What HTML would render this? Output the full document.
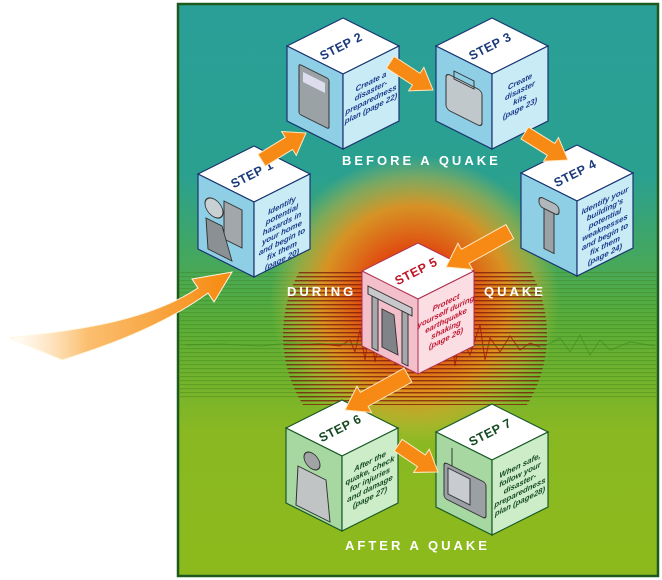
<!DOCTYPE html>
<html><head><meta charset="utf-8"><style>
html,body{margin:0;padding:0;background:#fff;width:662px;height:580px;overflow:hidden}
svg{display:block}
.lab{font-family:"Liberation Sans",sans-serif;font-weight:900;fill:#fff;font-size:13px;letter-spacing:3px}
.face{font-family:"Liberation Sans",sans-serif;font-weight:bold;font-style:italic;font-size:7.8px;text-anchor:middle}
.stp{font-family:"Liberation Sans",sans-serif;font-weight:900;font-size:12.5px;text-anchor:middle;letter-spacing:0.5px}
</style></head><body>
<svg width="662" height="580" viewBox="0 0 662 580" xmlns="http://www.w3.org/2000/svg">
<defs>
<linearGradient id="bg" x1="0" y1="0" x2="0" y2="1">
<stop offset="0" stop-color="#2a9f98"/><stop offset="0.3" stop-color="#2aa090"/>
<stop offset="0.55" stop-color="#58ad3a"/><stop offset="0.75" stop-color="#8ab822"/><stop offset="1" stop-color="#8cba1c"/>
</linearGradient>
<radialGradient id="glow" cx="415" cy="300" r="145" gradientUnits="userSpaceOnUse">
<stop offset="0" stop-color="#d8200c"/><stop offset="0.35" stop-color="#e04a10"/>
<stop offset="0.65" stop-color="#e8901c" stop-opacity="0.9"/><stop offset="0.85" stop-color="#d8b030" stop-opacity="0.45"/>
<stop offset="1" stop-color="#c0c040" stop-opacity="0"/>
</radialGradient>
<linearGradient id="big" x1="10" y1="0" x2="230" y2="0" gradientUnits="userSpaceOnUse">
<stop offset="0" stop-color="#ffd9a0" stop-opacity="0"/><stop offset="0.35" stop-color="#fbbf70"/><stop offset="1" stop-color="#f68a10"/>
</linearGradient>
<clipPath id="circ"><circle cx="415" cy="335" r="132"/></clipPath>
<pattern id="stripes" width="10" height="4" patternUnits="userSpaceOnUse"><rect width="10" height="1.4" fill="#7a1808"/></pattern>
<pattern id="stripes2" width="10" height="4" patternUnits="userSpaceOnUse"><rect width="10" height="1.2" fill="#3a7a10" opacity="0.35"/></pattern>
</defs>
<rect x="178" y="4" width="480" height="572" fill="url(#bg)" stroke="#1e5a1e" stroke-width="2.5"/>
<rect x="180" y="270" width="476" height="130" fill="url(#stripes2)"/>
<circle cx="415" cy="300" r="145" fill="url(#glow)"/>
<g clip-path="url(#circ)"><rect x="280" y="270" width="270" height="135" fill="url(#stripes)" opacity="0.75"/></g>
<polyline fill="none" stroke="#a01808" stroke-width="1" opacity="0.8" points="300,345 320,344 340,346 350,340 355,352 360,330 365,360 370,325 375,362 380,335 385,355 390,320 395,365 400,330 410,360 420,340 430,358 440,330 445,362 450,320 455,366 460,335 470,355 480,325 485,360 490,338 500,352 510,336 520,350 530,343 540,347"/>
<polyline fill="none" stroke="#3a8a20" stroke-width="1" opacity="0.6" points="185,345 220,344 260,346 290,343 545,346 560,338 570,352 580,335 590,355 600,340 610,350 630,342 655,346"/>

<path d="M10,338 C80,330 150,320 198,288 L192,279 L232,272 L214,302 L208,293 C160,328 100,348 62,360 Z" fill="url(#big)" stroke="#fff6e0" stroke-width="1"/>

<g transform="translate(254,146)" stroke="#1a3470" stroke-width="1.2">
<polygon points="0,0 56,28 0,56 -56,28" fill="#ffffff"/>
<polygon points="-56,28 0,56 0,131 -56,103" fill="#8fcfe6"/>
<polygon points="0,56 56,28 56,103 0,131" fill="#c8ebf6"/>
</g>
<g transform="translate(343,18)" stroke="#1a3470" stroke-width="1.2">
<polygon points="0,0 56,28 0,56 -56,28" fill="#ffffff"/>
<polygon points="-56,28 0,56 0,131 -56,103" fill="#8fcfe6"/>
<polygon points="0,56 56,28 56,103 0,131" fill="#c8ebf6"/>
</g>
<g transform="translate(492,18)" stroke="#1a3470" stroke-width="1.2">
<polygon points="0,0 56,28 0,56 -56,28" fill="#ffffff"/>
<polygon points="-56,28 0,56 0,131 -56,103" fill="#8fcfe6"/>
<polygon points="0,56 56,28 56,103 0,131" fill="#c8ebf6"/>
</g>
<g transform="translate(577,145)" stroke="#1a3470" stroke-width="1.2">
<polygon points="0,0 56,28 0,56 -56,28" fill="#ffffff"/>
<polygon points="-56,28 0,56 0,131 -56,103" fill="#8fcfe6"/>
<polygon points="0,56 56,28 56,103 0,131" fill="#c8ebf6"/>
</g>
<g transform="translate(418,243)" stroke="#b03050" stroke-width="1">
<polygon points="0,0 56,28 0,56 -56,28" fill="#ffffff"/>
<polygon points="-56,28 0,56 0,131 -56,103" fill="#f3bfcb"/>
<polygon points="0,56 56,28 56,103 0,131" fill="#fbdde4"/>
</g>
<g transform="translate(342,400)" stroke="#1a5a28" stroke-width="1.2">
<polygon points="0,0 56,28 0,56 -56,28" fill="#ffffff"/>
<polygon points="-56,28 0,56 0,131 -56,103" fill="#a8d8a2"/>
<polygon points="0,56 56,28 56,103 0,131" fill="#cdecc8"/>
</g>
<g transform="translate(492,404)" stroke="#1a5a28" stroke-width="1.2">
<polygon points="0,0 56,28 0,56 -56,28" fill="#ffffff"/>
<polygon points="-56,28 0,56 0,131 -56,103" fill="#a8d8a2"/>
<polygon points="0,56 56,28 56,103 0,131" fill="#cdecc8"/>
</g>

<g fill="#8a9094" stroke="#333" stroke-width="1">
<g transform="translate(254,146) matrix(1,0.5,0,1,-56,28)"><circle cx="16" cy="26" r="9" fill="#c8d0d4"/><rect x="26" y="14" width="18" height="38" fill="#a0a8ac"/><path d="M8,40 L24,40 L34,70 L10,70 Z"/></g>
<g transform="translate(343,18) matrix(1,0.5,0,1,-56,28)"><rect x="12" y="12" width="30" height="50" rx="2" fill="#9aa2a6"/><rect x="16" y="18" width="22" height="10" fill="#dde" stroke="none"/></g>
<g transform="translate(492,18) matrix(1,0.5,0,1,-56,28)"><rect x="10" y="22" width="36" height="36" rx="4" fill="#c0c8cc"/><rect x="18" y="16" width="20" height="8" fill="none"/></g>
<g transform="translate(577,145) matrix(1,0.5,0,1,-56,28)"><rect x="18" y="14" width="20" height="10" rx="4" fill="#b0b8bc"/><rect x="23" y="24" width="10" height="40" fill="#9aa2a6"/></g>
<g transform="translate(418,243) matrix(1,0.5,0,1,-56,28)"><rect x="6" y="12" width="44" height="8" fill="#c8c8cc"/><rect x="10" y="20" width="6" height="52" fill="#a8a8ac"/><rect x="40" y="20" width="6" height="52" fill="#a8a8ac"/><path d="M20,28 L32,28 L36,66 L20,66 Z" fill="#808488"/></g>
<g transform="translate(342,400) matrix(1,0.5,0,1,-56,28)"><circle cx="26" cy="20" r="8" fill="#a0a4a4"/><path d="M12,32 L40,32 L44,72 L10,72 Z" fill="#c0c4c4"/></g>
<g transform="translate(492,404) matrix(1,0.5,0,1,-56,28)"><line x1="16" y1="8" x2="16" y2="26"/><rect x="8" y="26" width="42" height="36" rx="3" fill="#9aa0a4"/><rect x="12" y="30" width="22" height="26" fill="#c8ccd0"/></g>
</g>

<g class="stp" fill="#1a3a7a">
<text transform="translate(254,178) rotate(-27)">STEP 1</text>
<text transform="translate(343,50) rotate(-27)">STEP 2</text>
<text transform="translate(492,50) rotate(-27)">STEP 3</text>
<text transform="translate(577,177) rotate(-27)">STEP 4</text>
</g>
<text class="stp" fill="#c01828" transform="translate(418,275) rotate(-27)">STEP 5</text>
<g class="stp" fill="#154a22">
<text transform="translate(342,432) rotate(-27)">STEP 6</text>
<text transform="translate(492,436) rotate(-27)">STEP 7</text>
</g>

<g class="face" fill="#1a3a8a">
<g transform="translate(254,146) matrix(1,-0.5,0,1,0,56)"><text x="28" y="20">Identify</text><text x="28" y="29">potential</text><text x="28" y="38">hazards in</text><text x="28" y="47">your home</text><text x="28" y="56">and begin to</text><text x="28" y="65">fix them</text><text x="28" y="74">(page 20)</text></g>
<g transform="translate(343,18) matrix(1,-0.5,0,1,0,56)"><text x="28" y="24">Create a</text><text x="28" y="33">disaster-</text><text x="28" y="42">preparedness</text><text x="28" y="51">plan (page 22)</text></g>
<g transform="translate(492,18) matrix(1,-0.5,0,1,0,56)"><text x="28" y="24">Create</text><text x="28" y="33">disaster</text><text x="28" y="42">kits</text><text x="28" y="51">(page 23)</text></g>
<g transform="translate(577,145) matrix(1,-0.5,0,1,0,56)"><text x="28" y="16">Identify your</text><text x="28" y="25">building's</text><text x="28" y="34">potential</text><text x="28" y="43">weaknesses</text><text x="28" y="52">and begin to</text><text x="28" y="61">fix them</text><text x="28" y="70">(page 24)</text></g>
</g>
<g class="face" fill="#c01830" transform="translate(418,243) matrix(1,-0.5,0,1,0,56)"><text x="28" y="20">Protect</text><text x="28" y="29">yourself during</text><text x="28" y="38">earthquake</text><text x="28" y="47">shaking</text><text x="28" y="56">(page 26)</text></g>
<g class="face" fill="#154a22">
<g transform="translate(342,400) matrix(1,-0.5,0,1,0,56)"><text x="28" y="22">After the</text><text x="28" y="31">quake, check</text><text x="28" y="40">for injuries</text><text x="28" y="49">and damage</text><text x="28" y="58">(page 27)</text></g>
<g transform="translate(492,404) matrix(1,-0.5,0,1,0,56)"><text x="28" y="22">When safe,</text><text x="28" y="31">follow your</text><text x="28" y="40">disaster-</text><text x="28" y="49">preparedness</text><text x="28" y="58">plan (page28)</text></g>
</g>

<g fill="#f68a14" stroke="#ffe8c0" stroke-width="1">
<g transform="translate(306,133) rotate(-31.5)"><polygon points="0,0 -20,-14 -20,-7 -52,-7 -52,7 -20,7 -20,14"/></g>
<g transform="translate(433,90) rotate(33)"><polygon points="0,0 -20,-14 -20,-7 -51,-7 -51,7 -20,7 -20,14"/></g>
<g transform="translate(568,160) rotate(32)"><polygon points="0,0 -20,-14 -20,-7 -51,-7 -51,7 -20,7 -20,14"/></g>
<g transform="translate(446,267) rotate(151)"><polygon points="0,0 -22,-15 -22,-8 -73,-8 -73,8 -22,8 -22,15"/></g>
<g transform="translate(345,410) rotate(151)"><polygon points="0,0 -22,-15 -22,-8 -72,-8 -72,8 -22,8 -22,15"/></g>
<g transform="translate(438,472) rotate(34)"><polygon points="0,0 -20,-14 -20,-7 -48,-7 -48,7 -20,7 -20,14"/></g>
</g>

<text class="lab" x="342" y="165">BEFORE A QUAKE</text>
<text class="lab" x="287" y="296">DURING</text>
<text class="lab" x="484" y="296">QUAKE</text>
<text class="lab" x="345" y="550">AFTER A QUAKE</text>
</svg>
</body></html>
